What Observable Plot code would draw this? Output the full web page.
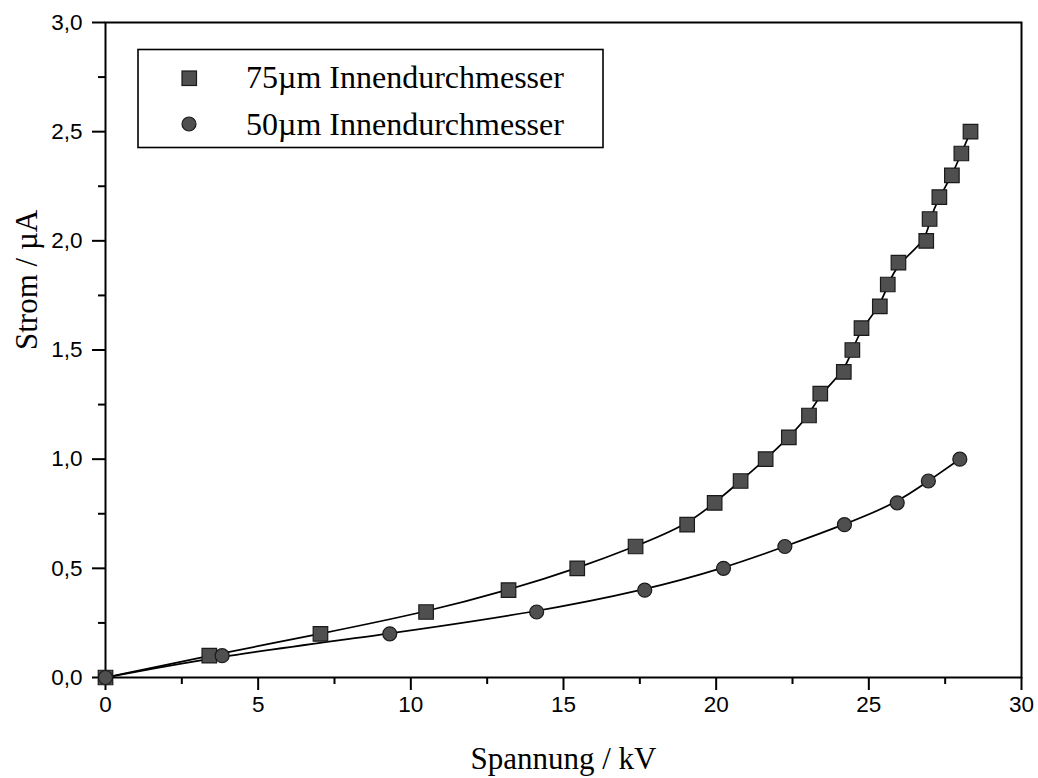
<!DOCTYPE html>
<html>
<head>
<meta charset="utf-8">
<script src="https://cdn.jsdelivr.net/npm/d3@7"></script>
<script src="https://cdn.jsdelivr.net/npm/@observablehq/plot@0.6"></script>
<style>
  html, body { margin: 0; padding: 0; background: #fff; }
  #chart { position: relative; width: 1038px; height: 778px; }
</style>
</head>
<body>
<div id="chart"></div>
<script>
// 75 µm inner diameter (squares)
const volt75 = [0, 3.4, 7.04, 10.5, 13.2, 15.45, 17.36, 19.05, 19.95, 20.8, 21.62, 22.38, 23.04, 23.41, 24.18, 24.46, 24.76, 25.36, 25.62, 25.97, 26.88, 26.99, 27.31, 27.72, 28.03, 28.33];
const curr75 = [0, 0.1, 0.2, 0.3, 0.4, 0.5, 0.6, 0.7, 0.8, 0.9, 1.0, 1.1, 1.2, 1.3, 1.4, 1.5, 1.6, 1.7, 1.8, 1.9, 2.0, 2.1, 2.2, 2.3, 2.4, 2.5];
// 50 µm inner diameter (circles)
const volt50 = [0, 3.82, 9.31, 14.12, 17.66, 20.24, 22.25, 24.2, 25.93, 26.95, 27.98];
const curr50 = [0, 0.1, 0.2, 0.3, 0.4, 0.5, 0.6, 0.7, 0.8, 0.9, 1.0];

const seriesNames = ["75\u00b5m Innendurchmesser", "50\u00b5m Innendurchmesser"];
const xTicks = [0, 5, 10, 15, 20, 25, 30];
const xMinor = [2.5, 7.5, 12.5, 17.5, 22.5, 27.5];
const yTicks = [0, 0.5, 1.0, 1.5, 2.0, 2.5, 3.0];
const yMinor = [0.25, 0.75, 1.25, 1.75, 2.25, 2.75];
const xTitle = "Spannung / kV";
const yTitle = "Strom / \u00b5A";

const d75 = volt75.map((v, i) => ({V: v, I: curr75[i]}));
const d50 = volt50.map((v, i) => ({V: v, I: curr50[i]}));
const fmt = d => d.toFixed(1).replace(".", ",");

const markFill = "#4f4f4f", markStroke = "#1a1a1a";
const sans = "'Liberation Sans', Arial, sans-serif";
const serif = "'Liberation Serif', 'Times New Roman', serif";
const tickFont = 22.5;

const plot = Plot.plot({
  width: 1038,
  height: 778,
  marginLeft: 105,
  marginRight: 17,
  marginTop: 22,
  marginBottom: 101,
  style: {background: "#fff", color: "#000", fontFamily: sans, fontSize: tickFont + "px"},
  x: {domain: [0, 30]},
  y: {domain: [0, 3]},
  marks: [
    Plot.axisX({ticks: xMinor, tickSize: 7, tickFormat: () => "", label: null, strokeWidth: 2}),
    Plot.axisX({ticks: xTicks, tickSize: 13, tickPadding: 6, tickFormat: d => String(d), label: null, strokeWidth: 2, fontSize: tickFont}),
    Plot.axisY({ticks: yMinor, tickSize: 7, tickFormat: () => "", label: null, strokeWidth: 2}),
    Plot.axisY({ticks: yTicks, tickSize: 13, tickPadding: 10, tickFormat: fmt, label: null, strokeWidth: 2, fontSize: tickFont}),
    Plot.frame({stroke: "#000", strokeWidth: 2}),
    Plot.line(d75, {x: "V", y: "I", curve: "basis", stroke: "#000", strokeWidth: 1.7}),
    Plot.line(d50, {x: "V", y: "I", curve: "basis", stroke: "#000", strokeWidth: 1.7}),
    Plot.dot(d75, {x: "V", y: "I", symbol: "square", r: 8.2, fill: markFill, stroke: markStroke, strokeWidth: 1.2}),
    Plot.dot(d50, {x: "V", y: "I", symbol: "circle", r: 7, fill: markFill, stroke: markStroke, strokeWidth: 1.2}),
    Plot.text([xTitle], {frameAnchor: "bottom", lineAnchor: "bottom", dy: 91, fontSize: 31, fontFamily: serif, fill: "#000"}),
    Plot.text([yTitle], {frameAnchor: "left", rotate: -90, dx: -78, fontSize: 31, fontFamily: serif, fill: "#000"})
  ]
});

document.getElementById("chart").appendChild(plot);

const svg = d3.select(plot);
svg.selectAll('g[aria-label="x-axis tick label"], g[aria-label="y-axis tick label"]')
  .attr("font-size", tickFont).attr("font-family", sans);

// Legend (inside plot area, top-left)
const lg = svg.append("g").attr("class", "legend").attr("text-anchor", "start");
lg.append("rect").attr("x", 138).attr("y", 49.5).attr("width", 465).attr("height", 98)
  .attr("fill", "#fff").attr("stroke", "#000").attr("stroke-width", 1.6);
lg.append("rect").attr("x", 182).attr("y", 71).attr("width", 14.5).attr("height", 14.5)
  .attr("fill", markFill).attr("stroke", markStroke).attr("stroke-width", 1.2);
lg.append("circle").attr("cx", 189).attr("cy", 124).attr("r", 7)
  .attr("fill", markFill).attr("stroke", markStroke).attr("stroke-width", 1.2);
[88, 135].forEach((by, i) => {
  lg.append("text").attr("x", 246).attr("y", by).attr("text-anchor", "start")
    .attr("font-family", serif).attr("font-size", 32).attr("fill", "#000")
    .text(seriesNames[i]);
});
</script>
</body>
</html>
